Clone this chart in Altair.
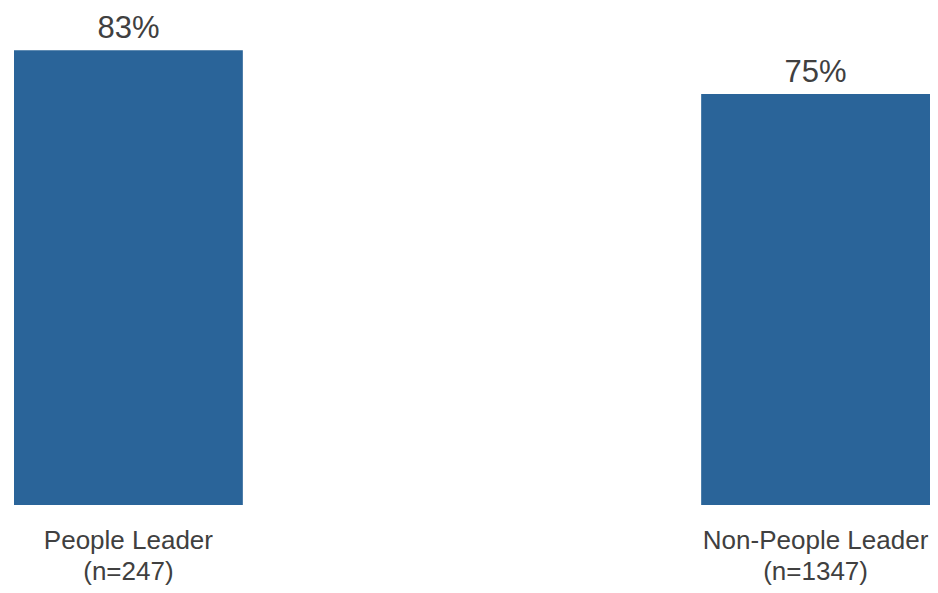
import altair as alt
import pandas as pd

categories = ["People Leader|(n=247)", "Non-People Leader|(n=1347)"]
values = [83, 75]
labels = ["83%", "75%"]

df = pd.DataFrame({"cat": categories, "val": values, "lab": labels})

x = alt.X("cat:N", sort=categories,
          scale=alt.Scale(range=[6, 922], paddingInner=0.667, paddingOuter=0),
          axis=alt.Axis(title=None, domain=False, ticks=False, labelAngle=0,
                        labelExpr="split(datum.label, '|')",
                        labelFont="Liberation Sans", labelFontSize=26,
                        labelColor="#404040", labelPadding=22, labelLineHeight=31,
                        labelLimit=0, grid=False))
y = alt.Y("val:Q", scale=alt.Scale(domain=[0, 90.7], nice=False),
          axis=None)

bars = alt.Chart(df).mark_bar(color="#2a6499").encode(x=x, y=y)
text = alt.Chart(df).mark_text(baseline="alphabetic", dy=-12, font="Liberation Sans",
                                fontSize=31, color="#404040").encode(
    x=alt.X("cat:N", sort=categories), y=y, text="lab:N")

chart = (bars + text).properties(
    width=922, height=497, padding={"left": 0, "top": 0, "right": 0, "bottom": 80},
    autosize="none", background="white"
).configure_view(strokeWidth=0, stroke="transparent")

chart.save("out.html", embed_options={"renderer": "svg", "actions": False})
